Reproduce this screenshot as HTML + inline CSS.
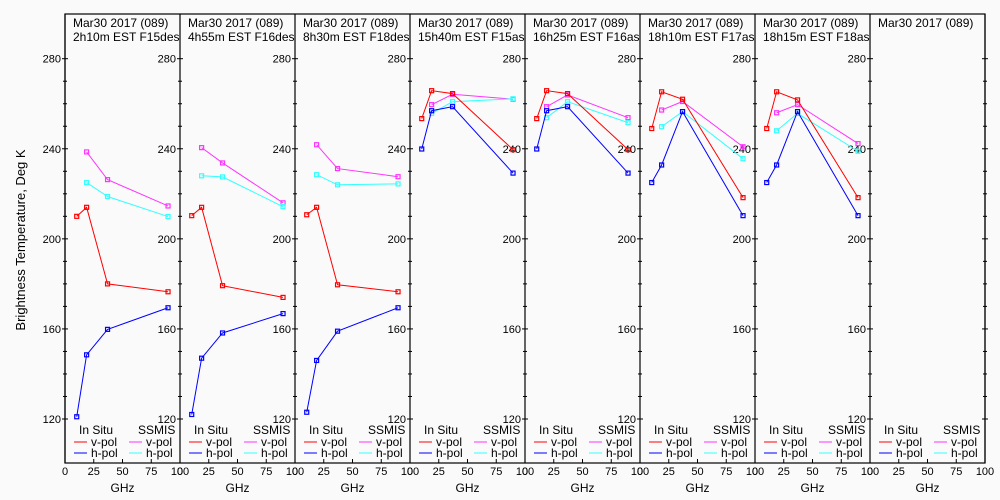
<!DOCTYPE html>
<html><head><meta charset="utf-8"><style>
html,body{margin:0;padding:0;background:#fafafa;}
svg{display:block;font-family:"Liberation Sans",sans-serif;}
</style></head><body>
<svg id="chart" width="1000" height="500" viewBox="0 0 1000 500">
<rect x="0" y="0" width="1000" height="500" fill="#fafafa"/>
<text x="25" y="240" font-size="13" text-anchor="middle" transform="rotate(-90 25 240)">Brightness Temperature, Deg K</text>
</svg>
<script>
const titles1 = ["Mar30 2017 (089)","Mar30 2017 (089)","Mar30 2017 (089)","Mar30 2017 (089)","Mar30 2017 (089)","Mar30 2017 (089)","Mar30 2017 (089)","Mar30 2017 (089)"];
const titles2 = ["2h10m EST F15des","4h55m EST F16des","8h30m EST F18des","15h40m EST F15asc","16h25m EST F16asc","18h10m EST F17asc","18h15m EST F18asc",""];
const freqs = [10.2, 18.8, 37, 89.6];
const ssmisFreqs = [18.8, 37, 89.6];
const inSituV = [[210,214,180,176.5],[210.3,214,179.2,174],[210.7,214,179.6,176.5],[253.4,265.8,264.5,239.6],[253.4,265.8,264.5,239.6],[249,265.3,262,218.3],[249,265.3,261.7,218.3],null];
const inSituH = [[121,148.5,159.8,169.4],[122,147,158.2,166.8],[123,146,159,169.4],[239.9,256.9,258.7,229.2],[239.9,256.9,258.7,229.2],[225,232.8,256.5,210.3],[225,232.8,256.5,210.3],null];
const ssmisV = [[238.6,226.3,214.6],[240.5,233.7,216],[241.8,231.2,227.6],[259.6,264.2,262],[258.7,263.9,253.8],[257.2,261,240.9],[256,259.6,242.3],null];
const ssmisH = [[225,218.8,209.9],[228,227.5,214.3],[228.5,224,224.4],[255.7,260.9,262.2],[253.8,260.9,251.6],[249.8,256.5,235.6],[248,255.7,238.9],null];
const yTicks = [120,160,200,240,280];
const xTickLabels = ["0","25","50","75","100"];

const NS="http://www.w3.org/2000/svg";
const svg=document.getElementById('chart');
const X0=65, PW=115, TOP=14, BOT=463;
function yS(v){return 419-(v-120)*(360.3/160);}
function xS(p,g){return X0+p*PW+g*PW/100;}
function mk(tag,attrs,parent){const e=document.createElementNS(NS,tag);for(const k in attrs)e.setAttribute(k,attrs[k]);(parent||svg).appendChild(e);return e;}

const frame=mk('rect',{x:X0,y:TOP,width:PW*8,height:BOT-TOP,fill:'none',stroke:'#000','stroke-width':1.2});



for(let p=0;p<=8;p++){
  const ax=X0+p*PW;
  const ln=mk('line',{x1:ax,y1:TOP,x2:ax,y2:BOT,stroke:'#000','stroke-width':1.2});
  
  
  for(let v=120;v<=280;v+=10){
    const major=(v%40===0);
    const t=mk('line',{x1:ax-(major?3:2),y1:yS(v),x2:ax+(major?3:2),y2:yS(v),stroke:'#000','stroke-width':1});
    
    
  }
  if(p<8){
    yTicks.forEach(v=>{
      const lb=mk('text',{x:ax-4,y:yS(v)+4,'font-size':11,'text-anchor':'end'});
      lb.textContent=v;
      
      
    });
  }
}

for(let p=0;p<8;p++){
  const g=mk('g',{});
  
  
  const cid='clip'+p;
  const cp=mk('clipPath',{id:cid},g);
  mk('rect',{x:X0+p*PW+1,y:TOP,width:PW-2,height:40},cp);
  const t1=mk('text',{x:X0+p*PW+8,y:27,'font-size':12,'clip-path':'url(#'+cid+')'},g);
  t1.textContent=titles1[p];
  
  
  if(titles2[p]){
    const t2=mk('text',{x:X0+p*PW+8,y:41,'font-size':12,'clip-path':'url(#'+cid+')'},g);
    t2.textContent=titles2[p];
    
    
  }
  xTickLabels.forEach((lab,i)=>{
    const gx=xS(p,i*25);
    const tk=mk('line',{x1:gx,y1:BOT,x2:gx,y2:BOT-4,stroke:'#000'},g);
    
    
    const tl=mk('text',{x:gx,y:475,'font-size':11,'text-anchor':'middle'},g);
    tl.textContent=lab;
    
    
  });
  const xt=mk('text',{x:X0+p*PW+PW/2,y:492,'font-size':12,'text-anchor':'middle'},g);
  xt.textContent='GHz';
  
  
  const lx=X0+p*PW;
  const l1=mk('text',{x:lx+14,y:434,'font-size':12},g);l1.textContent='In Situ';
  
  
  const l2=mk('text',{x:lx+73,y:434,'font-size':12},g);l2.textContent='SSMIS';
  
  
  [[9,442,'#ff0000','v-pol'],[9,453,'#0000ff','h-pol'],[64,442,'#ff33ff','v-pol'],[64,453,'#33ffff','h-pol']].forEach(e=>{
    const ll=mk('line',{x1:lx+e[0],y1:e[1],x2:lx+e[0]+13,y2:e[1],stroke:e[2]},g);
    
    
    const lt=mk('text',{x:lx+e[0]+17,y:e[1]+4,'font-size':12},g);
    lt.textContent=e[3];
    
    
  });
  const series=[[ssmisV[p],ssmisFreqs,'#ff33ff','ssmis-v-pol'],[ssmisH[p],ssmisFreqs,'#33ffff','ssmis-h-pol'],[inSituV[p],freqs,'#ff0000','insitu-v-pol'],[inSituH[p],freqs,'#0000ff','insitu-h-pol']];
  series.forEach(s=>{
    if(!s[0])return;
    const pts=s[0].map((v,i)=>xS(p,s[1][i])+','+yS(v)).join(' ');
    const pl=mk('polyline',{points:pts,fill:'none',stroke:s[2],'stroke-width':1},g);
    
    
    s[0].forEach((v,i)=>{
      const r=mk('rect',{x:xS(p,s[1][i])-2,y:yS(v)-2,width:4,height:4,fill:'none',stroke:s[2],'stroke-width':1.2},g);
      
      
    });
  });
}
</script>
</body></html>
